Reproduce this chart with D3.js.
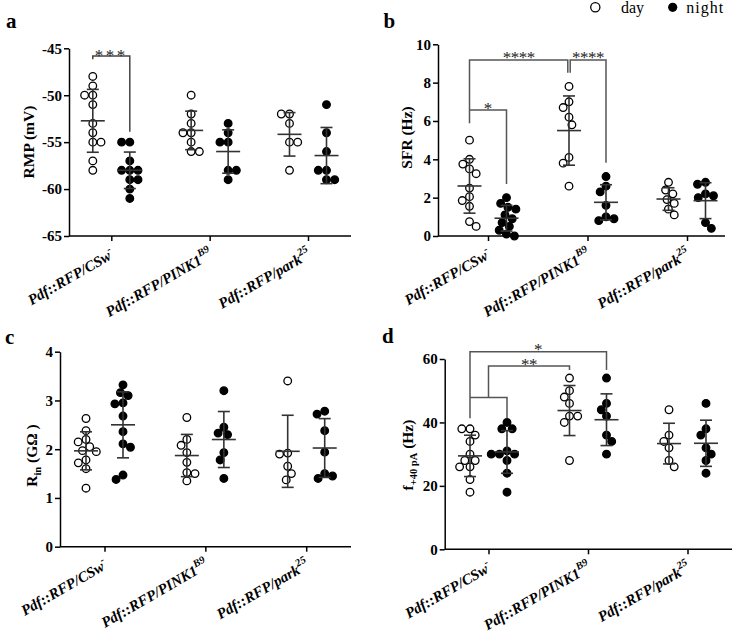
<!DOCTYPE html>
<html><head><meta charset="utf-8">
<script src="https://cdn.jsdelivr.net/npm/d3@7"></script>
<style>
body{margin:0;background:#fff;}
svg{display:block;font-family:"Liberation Serif","Times New Roman",serif;}
</style></head><body>
<svg id="c" width="734" height="634"></svg>
<script>
// ---------- data ----------
const categories = ["CSw", "PINK1", "park"];
const catMain = ["Pdf::RFP/CSw", "Pdf::RFP/PINK1", "Pdf::RFP/park"];
const catSup = ["-", "B9", "25"];
const conditions = ["day", "night"];

// a: RMP (mV)
const rmpTicks = [-65, -60, -55, -50, -45];
const rmpDay = [[-48,-49,-50,-50,-51,-53,-54,-55,-55,-57,-58],[-50,-52,-53,-54,-54,-55,-56,-56],[-52,-52,-53,-55,-55,-58]];
const rmpNight = [[-55,-55,-57,-58,-58,-58,-59,-59,-60,-61],[-53,-54,-55,-55,-58,-58,-59],[-51,-54,-56,-58,-58,-59,-59]];
// b: SFR (Hz)
const sfrTicks = [0, 2, 4, 6, 8, 10];
const sfrDay = [[5.0,4.0,3.75,3.5,3.25,2.5,2.05,1.85,1.55,0.75,0.5],[7.8,7.0,6.7,6.2,5.8,4.1,3.8,2.6],[2.8,2.4,2.2,1.9,1.7,1.4,1.1]];
const sfrNight = [[2.0,1.7,1.5,1.4,1.1,0.9,0.7,0.5,0.3,0.1,0.0],[3.1,2.6,2.3,1.6,1.0,0.9,0.8],[2.8,2.7,2.2,2.1,2.0,0.7,0.4]];
// c: Rin (GΩ)
const rinTicks = [0, 1, 2, 3, 4];
const rinDay = [[2.63,2.38,2.2,2.15,2.05,1.97,1.95,1.78,1.72,1.6,1.2],[2.65,2.2,2.08,1.93,1.73,1.52,1.5,1.35],[3.4,1.92,1.9,1.65,1.5,1.37]];
const rinNight = [[3.32,3.16,3.1,2.95,2.93,2.68,2.36,2.11,2.04,1.47,1.38],[3.2,2.45,2.33,2.3,1.93,1.78,1.4],[2.78,2.72,2.38,1.94,1.5,1.45,1.4]];
// d: f+40pA (Hz)
const fTicks = [0, 20, 40, 60];
const fDay = [[38,38,36,34,30,28,28,26,26,22,18],[54,50,48,46,42,42,40,28],[44,36,34,32,28,26]];
const fNight = [[40,38,38,31,30,30,30,28,24,18],[54,46,44,42,36,34,30],[46,38,36,32,30,28,24]];

// ---------- layout ----------
const svg = d3.select("#c");
svg.append("rect").attr("width", 734).attr("height", 634).attr("fill", "#fff");
const BAR = "#333", BRK = "#555";

const panels = [
  {letter:"a", lx:6, ly:28, title:[["RMP (mV)"]], tx:33.5, ty:142,
   day:rmpDay, night:rmpNight, domain:[-65,-45], ticks:rmpTicks,
   xr:[69,351], yr:[236,48.3], cr:[111.3,308],
   brackets:[{pts:[["CSw",-1,-46.17],["CSw",-1,-45.82],["CSw",1,-45.82],["CSw",1,-53.9]], lab:"***", ls:2.5, off:5, col:"#444"}]},
  {letter:"b", lx:383.5, ly:28, title:[["SFR (Hz)"]], tx:412, ty:137.5,
   day:sfrDay, night:sfrNight, domain:[0,10], ticks:sfrTicks,
   xr:[438,725], yr:[236,44.3], cr:[488,687],
   brackets:[
     {pts:[["CSw",-1,5.88],["CSw",-1,9.18],["PINK1",-1,9.18,-1.2],["PINK1",-1,8.52,-1.2]], lab:"****", ls:-0.5, off:3, col:BRK},
     {pts:[["PINK1",-1,8.52,1.2],["PINK1",-1,9.18,1.2],["PINK1",1,9.18],["PINK1",1,3.82]], lab:"****", ls:-0.5, off:3, col:BRK},
     {pts:[["CSw",-1,6.57],["CSw",1,6.57],["CSw",1,2.71]], lab:"*", ls:0, off:3.5, col:BRK}
   ]},
  {letter:"c", lx:5, ly:344, title:[["R"],["in","sub"],[" (GΩ )"]], tx:37, ty:455.5,
   day:rinDay, night:rinNight, domain:[0,4], ticks:rinTicks,
   xr:[60,351], yr:[546.7,351.7], cr:[104.5,306.2], brackets:[]},
  {letter:"d", lx:382, ly:343, title:[["f"],["+40 pA","sub"],[" (Hz)"]], tx:413, ty:455,
   day:fDay, night:fNight, domain:[0,60], ticks:fTicks,
   xr:[444.7,732], yr:[549.3,359], cr:[488.5,687.5],
   brackets:[
     {pts:[["CSw",-1,41.3],["CSw",-1,62.3],["PINK1",1,62.3],["PINK1",1,56.5]], lab:"*", ls:0, off:3.5, col:BRK},
     {pts:[["CSw",-1,47.9],["CSw",1,47.9],["CSw",1,41.3]], lab:null, col:BRK},
     {pts:[["CSw",0,47.9],["CSw",0,57.8],["PINK1",-1,57.8],["PINK1",-1,56.5]], lab:"**", ls:-0.5, off:4, col:BRK}
   ]}
];

const SUB = 18.5, R = 3.8;

function swarm(ys, d) {
  // classic beeswarm: place points closest to centre without overlap
  const idx = ys.map((y, i) => i).sort((a, b) => ys[a] - ys[b]);
  const xs = new Array(ys.length).fill(0);
  const placed = [];
  let flip = 1;
  idx.forEach(i => {
    const y = ys[i];
    const near = placed.filter(p => Math.abs(p.y - y) < d);
    const cands = [0];
    near.forEach(p => {
      const w = Math.sqrt(d * d - (p.y - y) ** 2);
      cands.push(p.x - w, p.x + w);
    });
    const ok = cands.filter(c => near.every(p => (p.x - c) ** 2 + (p.y - y) ** 2 >= d * d - 0.01));
    ok.sort((a, b) => Math.abs(a) - Math.abs(b) || (flip * (a - b)));
    const x = ok[0];
    if (x !== 0) flip = -flip;
    xs[i] = x;
    placed.push({x, y});
  });
  return xs;
}

panels.forEach(P => {
  const g = svg.append("g");
  const x = d3.scalePoint().domain(categories).range(P.cr);
  const sub = d3.scalePoint().domain(conditions).range([-SUB, SUB]);
  const y = d3.scaleLinear().domain(P.domain).range(P.yr);
  const yBase = P.yr[0];

  // panel letter
  g.append("text").attr("x", P.lx).attr("y", P.ly).attr("font-size", 21).attr("font-weight", "bold").text(P.letter);

  // y axis
  const ya = g.append("g").attr("transform", `translate(${P.xr[0]},0)`)
    .call(d3.axisLeft(y).tickValues(P.ticks).tickSize(5).tickPadding(2).tickSizeOuter(0).tickFormat(d3.format("d")));
  ya.attr("font-family", null).attr("font-size", null);
  ya.selectAll("text").style("font-family", '"Liberation Serif",serif').style("font-size", "15px").style("font-weight", "bold").attr("fill", "#000");
  ya.selectAll("line,path").attr("stroke", "#000").attr("stroke-width", 1.5);
  ya.selectAll(".tick text").text(d => d < 0 ? "-" + Math.abs(d) : d);

  // x axis
  g.append("line").attr("x1", P.xr[0]).attr("x2", P.xr[1]).attr("y1", yBase).attr("y2", yBase)
    .attr("stroke", "#000").attr("stroke-width", 1.5);
  const xa = g.append("g").attr("transform", `translate(0,${yBase})`)
    .call(d3.axisBottom(x).tickSize(5).tickFormat(""));
  xa.select(".domain").remove();
  xa.selectAll("line").attr("stroke", "#000").attr("stroke-width", 1.5);
  categories.forEach((c, i) => {
    const t = g.append("text")
      .attr("transform", `translate(${x(c) + 4},${yBase + 21}) rotate(-30)`)
      .attr("text-anchor", "end").attr("font-size", 15).attr("font-weight", "bold").attr("font-style", "italic");
    t.append("tspan").text(catMain[i]);
    t.append("tspan").attr("dy", -7).attr("font-size", 10.5).text(catSup[i]);
  });

  // y title
  const tt = g.append("text").attr("transform", `translate(${P.tx},${P.ty}) rotate(-90)`)
    .attr("text-anchor", "middle").attr("font-size", 15.5).attr("font-weight", "bold");
  let shifted = false;
  P.title.forEach(([s, k]) => {
    const sp = tt.append("tspan").text(s);
    if (k === "sub") { sp.attr("dy", 4).attr("font-size", 10.5); shifted = true; }
    else if (shifted) { sp.attr("dy", -4); shifted = false; }
  });

  // points
  conditions.forEach(cond => {
    const series = cond === "day" ? P.day : P.night;
    categories.forEach((c, ci) => {
      const vals = series[ci];
      const ys = vals.map(v => y(v));
      const xs = swarm(ys, 2 * R + 0.6);
      const cx = x(c) + sub(cond);
      g.append("g").selectAll("circle").data(vals).join("circle")
        .attr("cx", (v, i) => cx + xs[i]).attr("cy", v => y(v)).attr("r", R)
        .attr("fill", cond === "day" ? "#fff" : "#000")
        .attr("stroke", "#000").attr("stroke-width", 1.3);
      const m = d3.mean(vals), s = d3.deviation(vals);
      const eb = g.append("g").attr("stroke", BAR).attr("stroke-width", 1.6);
      eb.append("line").attr("x1", cx).attr("x2", cx).attr("y1", y(m - s)).attr("y2", y(m + s));
      eb.append("line").attr("x1", cx - 12).attr("x2", cx + 12).attr("y1", y(m)).attr("y2", y(m));
      [m - s, m + s].forEach(v => eb.append("line").attr("x1", cx - 6).attr("x2", cx + 6).attr("y1", y(v)).attr("y2", y(v)));
    });
  });

  // brackets
  P.brackets.forEach(b => {
    const pts = b.pts.map(([c, side, v, dx]) => [x(c) + side * SUB + (dx || 0), y(v)]);
    g.append("path").attr("d", d3.line()(pts)).attr("fill", "none").attr("stroke", b.col).attr("stroke-width", 1.5);
    if (b.lab) {
      const top = d3.min(pts, p => p[1]);
      const tops = pts.filter(p => Math.abs(p[1] - top) < 0.01);
      const mx = (d3.min(tops, p => p[0]) + d3.max(tops, p => p[0])) / 2;
      g.append("text").attr("x", mx).attr("y", top + b.off).attr("text-anchor", "middle")
        .attr("font-size", 17).attr("letter-spacing", b.ls).attr("fill", "#222").text(b.lab);
    }
  });
});

// legend
const lg = svg.append("g");
lg.append("circle").attr("cx", 595.3).attr("cy", 7.3).attr("r", 4.6).attr("fill", "#fff").attr("stroke", "#000").attr("stroke-width", 1.3);
lg.append("text").attr("x", 621).attr("y", 12.5).attr("font-size", 16).text("day");
lg.append("circle").attr("cx", 672.7).attr("cy", 7.3).attr("r", 4.6).attr("fill", "#000");
lg.append("text").attr("x", 686.3).attr("y", 12.5).attr("font-size", 16).attr("letter-spacing", 1).text("night");
</script>
</body></html>
